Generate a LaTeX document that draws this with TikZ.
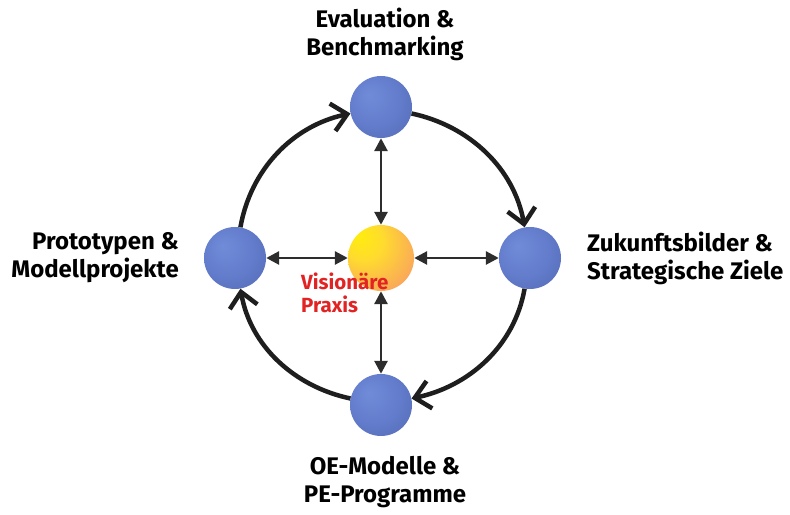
\documentclass[tikz,border=0pt]{standalone}
\usepackage{fontspec}
\setmainfont{Fira Sans}
\usetikzlibrary{arrows.meta}
\pgfdeclareradialshading{blueball}{\pgfpoint{-10bp}{10bp}}{%
  rgb(0bp)=(0.44,0.55,0.85);
  rgb(20bp)=(0.39,0.49,0.80);
  rgb(38bp)=(0.33,0.42,0.72);
  rgb(50bp)=(0.26,0.34,0.58)}
\pgfdeclareradialshading{sunball}{\pgfpoint{-18bp}{18bp}}{%
  rgb(0bp)=(1.00,0.93,0.05);
  rgb(15bp)=(1.00,0.86,0.18);
  rgb(35bp)=(0.98,0.66,0.35);
  rgb(50bp)=(0.95,0.55,0.45);
  rgb(60bp)=(0.93,0.50,0.45)}
\definecolor{ringcol}{RGB}{30,30,30}
\definecolor{spokecol}{RGB}{45,45,45}
\definecolor{praxred}{RGB}{225,35,35}
\begin{document}
\begin{tikzpicture}[x=1bp,y=1bp,
  ball/.style={circle,minimum size=62bp,inner sep=0pt,shading=blueball},
  sun/.style={circle,minimum size=66bp,inner sep=0pt,shading=sunball},
  ring/.style={line width=4.5bp,draw=ringcol,-{Straight Barb[length=15bp,width=28bp,line width=4.5bp]}},
  spoke/.style={line width=2.8bp,draw=spokecol,{Triangle[length=13bp,width=13bp]}-{Triangle[length=13bp,width=13bp]}},
  lbl/.style={font=\bfseries\fontsize{24bp}{28bp}\selectfont,text=black,inner sep=0pt}]
\useasboundingbox (0,0) rectangle (790,515);
\node[sun] (C) at (381,257) {};
\node[ball] (T) at (381,408) {};
\node[ball] (R) at (530,257) {};
\node[ball] (B) at (381,110) {};
\node[ball] (L) at (235,257) {};
% ring arrows
\draw[ring] (L) to[out=80,in=192,looseness=0.95] (T);
\draw[ring] (T) to[out=-12,in=100,looseness=0.95] (R);
\draw[ring] (R) to[out=-100,in=12,looseness=0.95] (B);
\draw[ring] (B) to[out=168,in=-80,looseness=0.95] (L);
% spokes
\draw[spoke] (T) -- (C);
\draw[spoke] (L) -- (C);
\draw[spoke] (C) -- (R);
\draw[spoke] (C) -- (B);
% labels
\node[lbl,align=center] (tT) at (385,481) {Evaluation \&\\Benchmarking};
\node[lbl,align=left,anchor=west] (tR) at (587,257) {Zukunftsbilder \&\\Strategische Ziele};
\node[lbl,align=right,anchor=east] (tL) at (179,257) {Prototypen \&\\Modellprojekte};
\node[lbl,align=center] (tB) at (385,33) {OE-Modelle \&\\PE-Programme};
\node[font=\bfseries\fontsize{20.5bp}{23bp}\selectfont,text=praxred,align=left,anchor=west,inner sep=0pt] (tC) at (301,222) {Visionäre\\Praxis};
\end{tikzpicture}
\end{document}
